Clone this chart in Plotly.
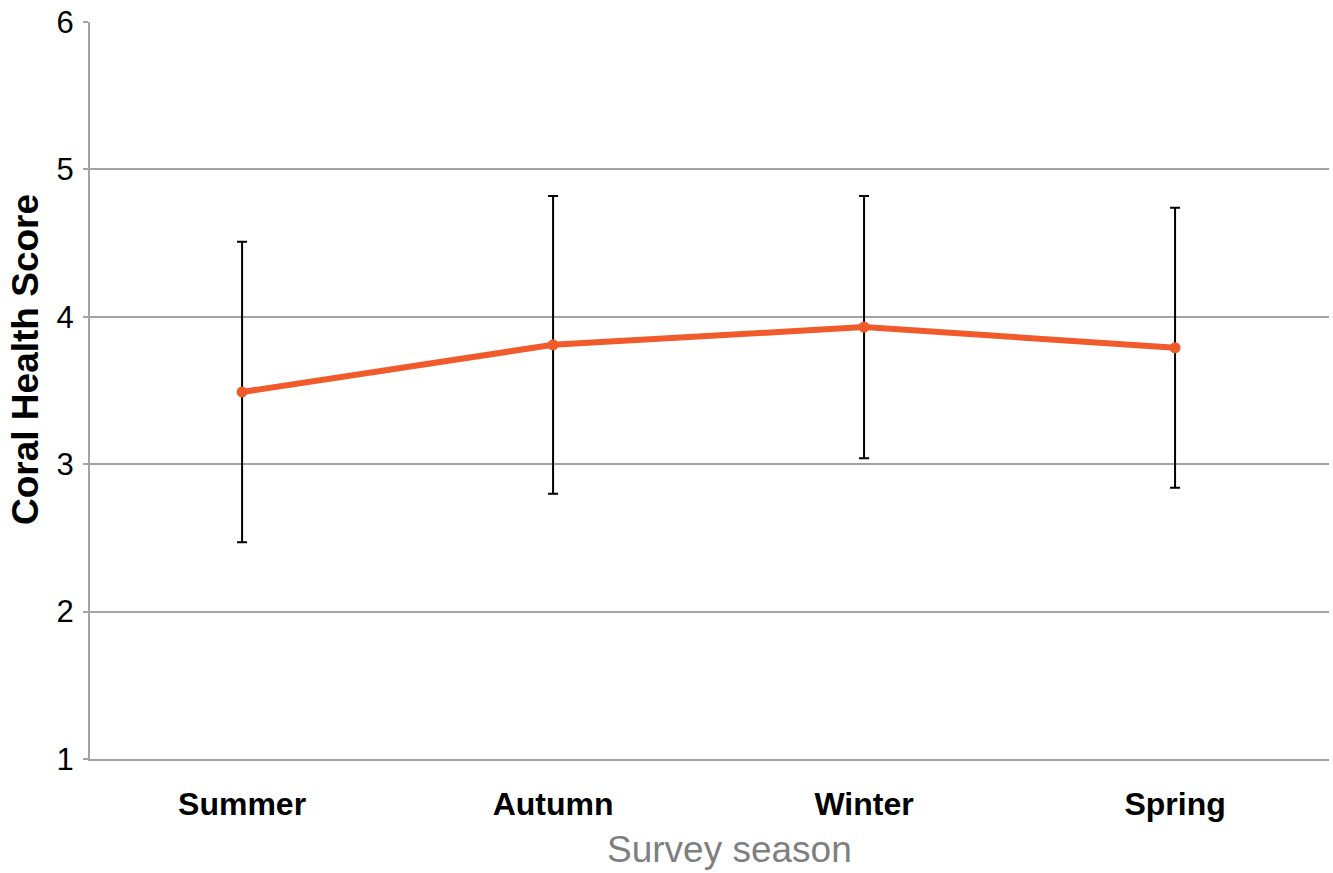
import plotly.graph_objects as go

# Coral health survey: mean score per season with error bars
seasons = ["Summer", "Autumn", "Winter", "Spring"]
mean_score = [3.49, 3.81, 3.93, 3.79]
score_error = [1.02, 1.01, 0.89, 0.95]
y_ticks = [1, 2, 3, 4, 5, 6]

GRID = "#a3a3a3"
LINE_COLOR = "#f15a2b"
FONT = "Liberation Sans, Arial, sans-serif"

fig = go.Figure()

fig.add_trace(go.Scatter(
    x=seasons,
    y=mean_score,
    mode="lines+markers",
    line=dict(color=LINE_COLOR, width=6),
    marker=dict(color=LINE_COLOR, size=11),
    error_y=dict(type="data", array=score_error, visible=True,
                 color="#000000", thickness=2, width=5),
    showlegend=False,
))

fig.update_layout(
    width=1333,
    height=873,
    margin=dict(l=90, r=4, t=22, b=114),
    paper_bgcolor="white",
    plot_bgcolor="white",
    font=dict(family=FONT, color="#000000"),
    xaxis=dict(
        type="category",
        range=[-0.489, 3.495],
        showgrid=False,
        showline=True,
        linecolor=GRID,
        linewidth=2,
        ticks="",
        tickfont=dict(family=FONT, size=32, color="#000000", weight="bold"),
        ticklabelstandoff=16,
        zeroline=False,
    ),
    yaxis=dict(
        range=[1, 6],
        tickvals=y_ticks,
        ticktext=[str(v) for v in y_ticks],
        showgrid=True,
        gridcolor=GRID,
        gridwidth=2,
        showline=True,
        linecolor=GRID,
        linewidth=2,
        ticks="outside",
        ticklen=5,
        tickwidth=2,
        tickcolor=GRID,
        tickfont=dict(family=FONT, size=31, color="#000000"),
        ticklabelstandoff=3,
        zeroline=False,
    ),
    annotations=[
        dict(
            text="Survey season",
            xref="paper", yref="paper",
            x=(730 - 90) / 1239, y=-(849 - 759) / 737,
            xanchor="center", yanchor="middle",
            showarrow=False,
            font=dict(family=FONT, size=37, color="#7f7f7f"),
        ),
        dict(
            text="Coral Health Score",
            xref="paper", yref="paper",
            x=-(90 - 25) / 1239, y=(759 - 360) / 737,
            xanchor="center", yanchor="middle",
            textangle=-90,
            showarrow=False,
            font=dict(family=FONT, size=37, color="#000000", weight="bold"),
        ),
    ],
)

fig.write_html("out.html")
